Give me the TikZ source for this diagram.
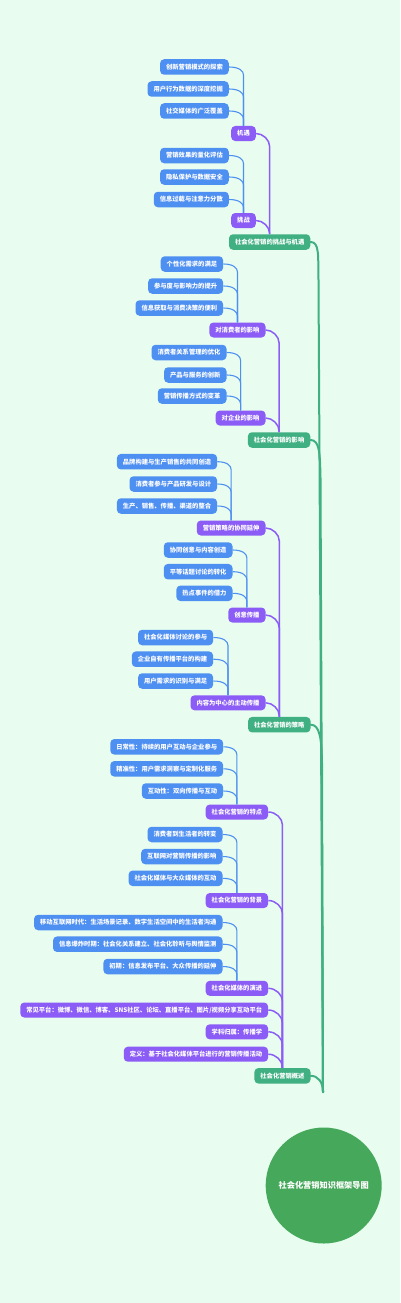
\documentclass[tikz,border=0pt]{standalone}
\usepackage{fontspec}
\setmainfont{Noto Sans CJK SC}
\usetikzlibrary{calc}
\definecolor{bg}{HTML}{E8FDF0}
\definecolor{leafblue}{HTML}{4E8FF2}
\definecolor{midpurple}{HTML}{8B5CF6}
\definecolor{topgreen}{HTML}{40B082}
\definecolor{rootgreen}{HTML}{45A85A}
\tikzset{
  basebox/.style={rounded corners=4pt, text=white, font=\fontsize{6.3}{7}\selectfont\bfseries,
    inner xsep=6pt, inner ysep=0pt, minimum height=15.5pt, anchor=east},
  leaf/.style={basebox, fill=leafblue},
  mid/.style={basebox, fill=midpurple, minimum height=15pt},
  topnode/.style={basebox, fill=topgreen},
  rootnode/.style={circle, fill=rootgreen, minimum size=116pt, inner sep=0pt, text=white,
    font=\fontsize{8.2}{10}\selectfont\bfseries},
  blink/.style={draw=leafblue, line width=1.1pt},
  plink/.style={draw=midpurple, line width=1.5pt},
  glink/.style={draw=topgreen, line width=2pt, line cap=round},
}
\newcommand\mmlink[4]{%
  \draw[#1] (#2.east) .. controls ($(#2.east -| #3.north)+(-#4/2,0)$) and ($(#2.east -| #3.north)+(0,#4/2)$) .. ($(#2.east -| #3.north)+(0,#4)$) -- (#3.north);}
\begin{document}
\begin{tikzpicture}[x=1pt,y=-1pt]
\fill[bg] (0,0) rectangle (400,1303);
\useasboundingbox (0,0) rectangle (400,1303);
% root
\node[rootnode] (root) at (323.7,1185.5) {社会化营销知识框架导图};
\coordinate (rootend) at (323,1092);
% group 1
\node[topnode] (g1) at (310.5,242) {社会化营销的挑战与机遇};
\node[mid] (p11) at (256,133.5) {机遇};
\node[leaf] (l111) at (229,67) {创新营销模式的探索};
\node[leaf] (l112) at (229,89) {用户行为数据的深度挖掘};
\node[leaf] (l113) at (229,111) {社交媒体的广泛覆盖};
\node[mid] (p12) at (256,220.5) {挑战};
\node[leaf] (l121) at (229,155.5) {营销效果的量化评估};
\node[leaf] (l122) at (229,177) {隐私保护与数据安全};
\node[leaf] (l123) at (229,199.5) {信息过载与注意力分散};
% group 2
\node[topnode] (g2) at (310.5,440) {社会化营销的影响};
\node[mid] (p21) at (265.7,330) {对消费者的影响};
\node[leaf] (l211) at (223.3,264) {个性化需求的满足};
\node[leaf] (l212) at (223.3,286) {参与度与影响力的提升};
\node[leaf] (l213) at (223.3,308) {信息获取与消费决策的便利};
\node[mid] (p22) at (265.7,418) {对企业的影响};
\node[leaf] (l221) at (226.7,352.5) {消费者关系管理的优化};
\node[leaf] (l222) at (226.7,375) {产品与服务的创新};
\node[leaf] (l223) at (226.7,396) {营销传播方式的变革};
% group 3
\node[topnode] (g3) at (310.7,724.7) {社会化营销的策略};
\node[mid] (p31) at (265.7,528) {营销策略的协同延伸};
\node[leaf] (l311) at (217.3,461.7) {品牌构建与生产销售的共同创造};
\node[leaf] (l312) at (217.3,484) {消费者参与产品研发与设计};
\node[leaf] (l313) at (217.3,506) {生产、销售、传播、渠道的整合};
\node[mid] (p32) at (265.7,615) {创意传播};
\node[leaf] (l321) at (232.7,550) {协同创意与内容创造};
\node[leaf] (l322) at (232.7,571.7) {平等话题讨论的转化};
\node[leaf] (l323) at (232.7,593.3) {热点事件的借力};
\node[mid] (p33) at (265.7,702.8) {内容为中心的主动传播};
\node[leaf] (l331) at (213.3,637.5) {社会化媒体讨论的参与};
\node[leaf] (l332) at (213.3,659.2) {企业自有传播平台的构建};
\node[leaf] (l333) at (213.3,681) {用户需求的识别与满足};
% group 4
\node[topnode] (g4) at (310.7,1075.8) {社会化营销概述};
\node[mid] (p41) at (268.3,812) {社会化营销的特点};
\node[leaf] (l411) at (223.3,746.8) {日常性：持续的用户互动与企业参与};
\node[leaf] (l412) at (223.3,768.8) {精准性：用户需求洞察与定制化服务};
\node[leaf] (l413) at (223.3,791) {互动性：双向传播与互动};
\node[mid] (p42) at (268.3,900.5) {社会化营销的背景};
\node[leaf] (l421) at (222.7,834.5) {消费者到生活者的转变};
\node[leaf] (l422) at (222.7,856.5) {互联网对营销传播的影响};
\node[leaf] (l423) at (222.7,878.3) {社会化媒体与大众媒体的互动};
\node[mid] (p43) at (268.3,988.3) {社会化媒体的演进};
\node[leaf] (l431) at (222.7,922.5) {移动互联网时代：生活场景记录、数字生活空间中的生活者沟通};
\node[leaf] (l432) at (222.7,944.2) {信息爆炸时期：社会化关系建立、社会化聆听与舆情监测};
\node[leaf] (l433) at (222.7,966.5) {初期：信息发布平台、大众传播的延伸};
\node[mid] (p44) at (268.3,1010) {常见平台：微博、微信、博客、SNS社区、论坛、直播平台、图片/视频分享互动平台};
\node[mid] (p45) at (268.3,1031.8) {学科归属：传播学};
\node[mid] (p46) at (268.3,1054.2) {定义：基于社会化媒体平台进行的营销传播活动};
% leaf links
\foreach \c in {l111,l112,l113} {\mmlink{blink}{\c}{p11}{8}}
\foreach \c in {l121,l122,l123} {\mmlink{blink}{\c}{p12}{8}}
\foreach \c in {l211,l212,l213} {\mmlink{blink}{\c}{p21}{8}}
\foreach \c in {l221,l222,l223} {\mmlink{blink}{\c}{p22}{8}}
\foreach \c in {l311,l312,l313} {\mmlink{blink}{\c}{p31}{8}}
\foreach \c in {l321,l322,l323} {\mmlink{blink}{\c}{p32}{8}}
\foreach \c in {l331,l332,l333} {\mmlink{blink}{\c}{p33}{8}}
\foreach \c in {l411,l412,l413} {\mmlink{blink}{\c}{p41}{8}}
\foreach \c in {l421,l422,l423} {\mmlink{blink}{\c}{p42}{8}}
\foreach \c in {l431,l432,l433} {\mmlink{blink}{\c}{p43}{8}}
% purple links
\foreach \c in {p11,p12} {\mmlink{plink}{\c}{g1}{13}}
\foreach \c in {p21,p22} {\mmlink{plink}{\c}{g2}{13}}
\foreach \c in {p31,p32,p33} {\mmlink{plink}{\c}{g3}{13}}
\foreach \c in {p41,p42,p43,p44,p45,p46} {\mmlink{plink}{\c}{g4}{13}}
% green links to root
\draw[glink] (g1.east) .. controls +(9,0) and (318,255) .. (318.5,280) -- (rootend);
\draw[glink] (g2.east) .. controls +(9,0) and (320,453) .. (320.5,478) -- (rootend);
\draw[glink] (g3.east) .. controls +(9,0) and (321.5,738) .. (322,763) -- (rootend);
\draw[glink] (g4.east) .. controls (318,1075.8) and (323,1082) .. (rootend);
\end{tikzpicture}
\end{document}
